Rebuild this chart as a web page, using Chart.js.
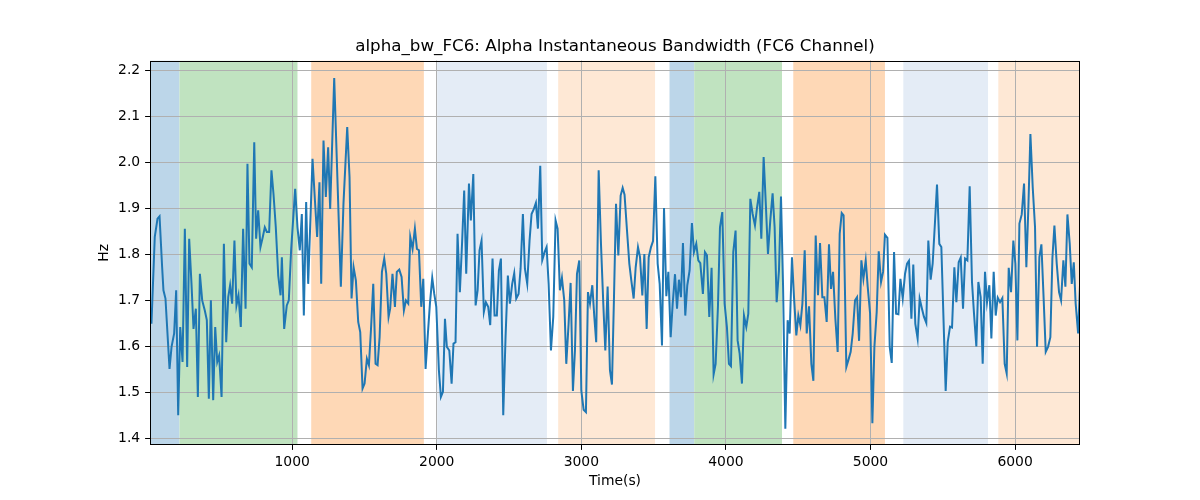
<!DOCTYPE html>
<html>
<head>
<meta charset="utf-8">
<title>alpha_bw_FC6</title>
<script src="https://cdn.jsdelivr.net/npm/chart.js@4.4.1/dist/chart.umd.min.js"></script>
<style>
  html, body { margin: 0; padding: 0; background: #fff; }
  #wrap { width: 1200px; height: 500px; }
</style>
</head>
<body>
<div id="wrap"><canvas id="myChart" width="1200" height="500"></canvas></div>
<script>
// time (s) of each sample
var timeSec = [
  27, 50, 69, 83, 101, 110, 124, 152, 166, 184, 198, 212, 226, 242, 258, 274, 288, 304, 318, 334,
  348, 362, 378, 396, 410, 424, 438, 454, 468, 482, 495, 512, 528, 544, 558, 571, 585, 601, 615, 629,
  645, 661, 678, 691, 705, 721, 738, 751, 765, 781, 797, 811, 825, 841, 857, 871, 887, 904, 920,
  929, 945, 963, 977, 993, 1021, 1037, 1053, 1067, 1081, 1097, 1111, 1141, 1157, 1173, 1189, 1201, 1217, 1233, 1249,
  1263, 1291, 1337, 1355, 1381, 1397, 1411, 1425, 1441, 1457, 1471, 1487, 1501, 1517, 1531, 1545, 1561, 1577, 1591, 1605,
  1621, 1637, 1651, 1667, 1678, 1694, 1711, 1724, 1741, 1757, 1773, 1787, 1803, 1817, 1833, 1849,
  1863, 1877, 1893, 1907, 1923, 1939, 1953, 1969, 1983, 1997, 2015, 2029, 2043, 2057, 2070, 2087, 2103, 2116, 2130, 2144,
  2160, 2176, 2190, 2204, 2223, 2236, 2253, 2269, 2283, 2296, 2310, 2326, 2340, 2356, 2370, 2386, 2400, 2416, 2430, 2444,
  2460, 2476, 2492, 2506, 2522, 2536, 2550, 2566, 2580, 2596, 2610, 2626, 2642, 2656, 2672, 2686, 2700, 2716, 2730, 2746, 2760,
  2774, 2790, 2806, 2822, 2836, 2852, 2866, 2882, 2896, 2912, 2926, 2942, 2956, 2970, 2986, 3000, 3016, 3032, 3046, 3060,
  3076, 3090, 3103, 3120, 3136, 3152, 3166, 3182, 3198, 3212, 3226, 3240, 3256, 3272, 3286, 3299, 3316, 3332, 3346, 3362,
  3376, 3392, 3406, 3422, 3436, 3452, 3466, 3482, 3496, 3512, 3528, 3542, 3558, 3572, 3588, 3602, 3618, 3632, 3648, 3662, 3675,
  3689, 3703, 3719, 3733, 3749, 3765, 3779, 3795, 3809, 3823, 3841, 3855, 3869, 3885, 3901, 3915, 3929, 3945, 3959, 3975,
  3991, 4007, 4021, 4035, 4051, 4067, 4081, 4095, 4111, 4125, 4141, 4155, 4169, 4185, 4201, 4215, 4231, 4245, 4261, 4277,
  4291, 4307, 4323, 4337, 4351, 4367, 4381, 4395, 4411, 4427, 4441, 4457, 4471, 4487, 4501, 4515, 4529, 4545, 4559, 4575, 4591,
  4605, 4621, 4637, 4651, 4667, 4681, 4697, 4713, 4727, 4741, 4757, 4773, 4787, 4801, 4814, 4833, 4847, 4863, 4877, 4893,
  4907, 4921, 4937, 4951, 4967, 4981, 4997, 5013, 5027, 5043, 5057, 5073, 5087, 5100, 5117, 5133, 5147, 5163, 5177, 5193,
  5207, 5223, 5239, 5253, 5266, 5283, 5296, 5310, 5326, 5340, 5356, 5370, 5386, 5400, 5416, 5430, 5446, 5460, 5476, 5490,
  5520, 5534, 5550, 5564, 5580, 5594, 5610, 5624, 5640, 5654, 5670, 5686, 5702, 5716, 5732, 5746, 5762, 5776, 5792, 5806,
  5822, 5836, 5852, 5866, 5880, 5896, 5912, 5928, 5942, 5956, 5972, 5988, 6002, 6016, 6030, 6046, 6062, 6078, 6092, 6106,
  6122, 6138, 6152, 6168, 6182, 6198, 6212, 6228, 6244, 6258, 6272, 6288, 6304, 6318, 6334, 6348, 6362, 6378, 6392, 6406,
  6419, 6436, 6449
];

// alpha bandwidth (Hz)
var bwHz = [
  1.649, 1.838, 1.878, 1.883, 1.772, 1.722, 1.704, 1.551, 1.599, 1.628, 1.722, 1.450, 1.642, 1.566, 1.856, 1.555, 1.834, 1.736, 1.638, 1.682,
  1.490, 1.758, 1.700, 1.678, 1.657, 1.486, 1.700, 1.483, 1.642, 1.566, 1.580, 1.490, 1.823, 1.609, 1.707, 1.733, 1.693, 1.830, 1.689, 1.711,
  1.642, 1.856, 1.682, 1.997, 1.780, 1.772, 2.044, 1.834, 1.896, 1.816, 1.838, 1.859, 1.849, 1.849, 1.983, 1.932, 1.859, 1.754, 1.711,
  1.794, 1.638, 1.689, 1.700, 1.809, 1.943, 1.859, 1.809, 1.888, 1.667, 1.914, 1.736, 2.008, 1.921, 1.838, 1.957, 1.736, 2.048, 1.925, 2.033,
  1.899, 2.184, 1.730, 1.910, 2.077, 1.968, 1.704, 1.772, 1.743, 1.653, 1.631, 1.508, 1.519, 1.573, 1.559, 1.635, 1.736, 1.562, 1.559, 1.620,
  1.762, 1.791, 1.758, 1.664, 1.682, 1.758, 1.686, 1.762, 1.767, 1.751, 1.678, 1.700, 1.693, 1.838, 1.812, 1.856,
  1.812, 1.809, 1.686, 1.747, 1.551, 1.628, 1.693, 1.749, 1.714, 1.686, 1.548, 1.490, 1.501, 1.660, 1.599, 1.591, 1.519, 1.606, 1.609, 1.845,
  1.718, 1.830, 1.939, 1.758, 1.954, 1.874, 1.975, 1.689, 1.722, 1.809, 1.830, 1.675, 1.696, 1.686, 1.646, 1.791, 1.667, 1.667, 1.765, 1.791,
  1.450, 1.620, 1.754, 1.693, 1.736, 1.759, 1.704, 1.714, 1.769, 1.888, 1.769, 1.736, 1.830, 1.888, 1.899, 1.912, 1.856, 1.993, 1.788, 1.805, 1.816,
  1.736, 1.591, 1.664, 1.874, 1.856, 1.722, 1.749, 1.700, 1.562, 1.649, 1.738, 1.503, 1.591, 1.758, 1.787, 1.504, 1.462, 1.457, 1.718, 1.693,
  1.733, 1.664, 1.609, 1.983, 1.823, 1.693, 1.591, 1.730, 1.548, 1.517, 1.707, 1.910, 1.798, 1.928, 1.945, 1.930, 1.852, 1.780, 1.743, 1.704,
  1.772, 1.816, 1.794, 1.711, 1.801, 1.638, 1.794, 1.816, 1.829, 1.970, 1.780, 1.736, 1.602, 1.901, 1.709, 1.762, 1.620, 1.693, 1.757, 1.682, 1.745,
  1.707, 1.825, 1.667, 1.733, 1.765, 1.868, 1.805, 1.823, 1.787, 1.781, 1.714, 1.805, 1.798, 1.664, 1.771, 1.539, 1.562, 1.686, 1.859, 1.892,
  1.693, 1.642, 1.562, 1.557, 1.805, 1.852, 1.613, 1.584, 1.519, 1.667, 1.642, 1.671, 1.921, 1.888, 1.863, 1.901, 1.936, 1.834, 2.012, 1.903,
  1.801, 1.874, 1.933, 1.859, 1.696, 1.765, 1.926, 1.736, 1.421, 1.657, 1.628, 1.794, 1.707, 1.624, 1.667, 1.646, 1.693, 1.809, 1.628, 1.687, 1.562,
  1.525, 1.841, 1.711, 1.825, 1.707, 1.707, 1.653, 1.822, 1.725, 1.762, 1.660, 1.588, 1.845, 1.890, 1.885, 1.555, 1.570, 1.588, 1.628, 1.700,
  1.707, 1.612, 1.787, 1.747, 1.787, 1.729, 1.672, 1.433, 1.599, 1.675, 1.807, 1.740, 1.762, 1.843, 1.836, 1.599, 1.564, 1.805, 1.671, 1.670,
  1.747, 1.704, 1.758, 1.780, 1.786, 1.660, 1.778, 1.649, 1.617, 1.704, 1.682, 1.664, 1.651, 1.830, 1.745, 1.780, 1.870, 1.952, 1.823, 1.816,
  1.503, 1.609, 1.643, 1.641, 1.772, 1.696, 1.783, 1.793, 1.682, 1.791, 1.787, 1.948, 1.740, 1.671, 1.600, 1.740, 1.707, 1.562, 1.762, 1.696,
  1.733, 1.617, 1.762, 1.667, 1.706, 1.696, 1.705, 1.562, 1.541, 1.771, 1.718, 1.830, 1.780, 1.613, 1.867, 1.887, 1.954, 1.772, 1.903, 2.062,
  1.946, 1.859, 1.599, 1.794, 1.822, 1.700, 1.588, 1.599, 1.620, 1.791, 1.863, 1.780, 1.718, 1.700, 1.787, 1.730, 1.887, 1.823, 1.736, 1.783,
  1.693, 1.628, 1.733
];

// shaded segments (s)
var bandStart = [17, 221, 1132, 2003, 2840, 3610, 3781, 4466, 5227, 5884];
var bandEnd   = [221, 1037, 1911, 2762, 3510, 3781, 4388, 5100, 5813, 6449];
var bandColor = ['#bcd6e9', '#c0e3c0', '#fed8b6', '#e4ecf6', '#fee8d5',
                 '#bcd6e9', '#c0e3c0', '#fed8b6', '#e4ecf6', '#fee8d5'];

var xTicks = [1000, 2000, 3000, 4000, 5000, 6000];
var yTicks = [1.4, 1.5, 1.6, 1.7, 1.8, 1.9, 2.0, 2.1, 2.2];

document.addEventListener('DOMContentLoaded', function() {
    var ctx = document.getElementById('myChart').getContext('2d');
    Chart.defaults.font.family = 'DejaVu Sans';
    Chart.defaults.color = '#000';

    // background bands, drawn under the grid
    var bandsPlugin = {
        id: 'bands',
        afterLayout: function(chart) {
            // centre the title over the plot area, not the whole canvas
            var a = chart.chartArea, tb = chart.titleBlock;
            if (tb) {
                tb.left = a.left;
                tb.right = a.right;
                tb.width = a.right - a.left;
            }
        },
        beforeDraw: function(chart) {
            var c = chart.ctx, area = chart.chartArea, xs = chart.scales.x;
            c.save();
            c.beginPath();
            c.rect(area.left, area.top, area.right - area.left, area.bottom - area.top);
            c.clip();
            for (var i = 0; i < bandStart.length; i++) {
                var x0 = xs.getPixelForValue(bandStart[i]);
                var x1 = xs.getPixelForValue(bandEnd[i]);
                c.fillStyle = bandColor[i];
                c.fillRect(x0, area.top, x1 - x0, area.bottom - area.top);
            }
            c.restore();
        }
    };

    // axes frame
    var framePlugin = {
        id: 'frame',
        afterDraw: function(chart) {
            var c = chart.ctx, a = chart.chartArea;
            c.save();
            c.strokeStyle = '#000';
            c.lineWidth = 1;
            c.strokeRect(Math.round(a.left) + 0.5, Math.round(a.top) + 0.5,
                         Math.round(a.right - a.left) - 1, Math.round(a.bottom - a.top) - 1);
            c.restore();
        }
    };

    new Chart(ctx, {
        type: 'line',
        data: {
            datasets: [{
                label: 'alpha_bw_FC6',
                data: timeSec.map(function(t, i) { return { x: t, y: bwHz[i] }; }),
                borderColor: '#1f77b4',
                borderWidth: 2,
                pointRadius: 0,
                tension: 0,
                fill: false
            }]
        },
        options: {
            responsive: false,
            animation: false,
            layout: { padding: { left: 0, right: 120, top: 0, bottom: 0 } },
            plugins: {
                legend: { display: false },
                tooltip: { enabled: false },
                title: {
                    display: true,
                    text: 'alpha_bw_FC6: Alpha Instantaneous Bandwidth (FC6 Channel)',
                    color: '#000',
                    font: { size: 16.7, weight: 'normal', lineHeight: 1.2 },
                    padding: { top: 36.7, bottom: 3.8 }
                }
            },
            scales: {
                x: {
                    type: 'linear',
                    min: 17,
                    max: 6449,
                    afterBuildTicks: function(s) { s.ticks = xTicks.map(function(v) { return { value: v }; }); },
                    afterFit: function(s) { s.height = 55; },
                    grid: { color: '#b0b0b0', lineWidth: 1, tickColor: '#000', tickLength: 4.9 },
                    border: { display: false },
                    ticks: {
                        font: { size: 13.9 },
                        padding: 4,
                        maxRotation: 0,
                        autoSkip: false,
                        callback: function(v) { return String(v); }
                    },
                    title: {
                        display: true,
                        text: 'Time(s)',
                        font: { size: 13.9, lineHeight: 1.2 },
                        padding: { top: 0, bottom: 10 }
                    }
                },
                y: {
                    min: 1.3854,
                    max: 2.2218,
                    afterBuildTicks: function(s) { s.ticks = yTicks.map(function(v) { return { value: v }; }); },
                    afterFit: function(s) { s.width = 150; },
                    grid: { color: '#b0b0b0', lineWidth: 1, tickColor: '#000', tickLength: 4.9 },
                    border: { display: false },
                    ticks: {
                        font: { size: 13.9 },
                        padding: 4.9,
                        autoSkip: false,
                        callback: function(v) { return Number(v).toFixed(1); }
                    },
                    title: {
                        display: true,
                        text: 'Hz',
                        font: { size: 13.9, lineHeight: 1.2 },
                        padding: { top: 96.5, bottom: 0 }
                    }
                }
            }
        },
        plugins: [bandsPlugin, framePlugin]
    });
});
</script>
</body>
</html>
